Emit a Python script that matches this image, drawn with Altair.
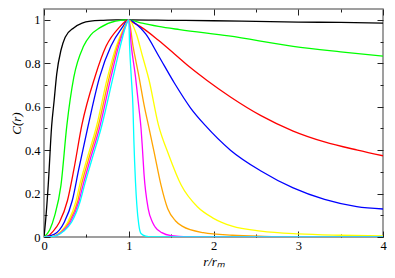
import altair as alt
import pandas as pd

# ---- data (x = r/r_m, y = C(r)) ----
series = ["black", "green", "red", "blue", "yellow", "orange", "magenta", "cyan"]
colors = ["#000000", "#00ff00", "#ff0000", "#0000ff", "#ffff00", "#ffa500", "#ff00ff", "#00ffff"]

black_x = [0, 0.02, 0.05, 0.09, 0.12, 0.15, 0.2, 0.25, 0.35, 0.45, 0.55, 0.7, 0.85, 1.0, 1.5, 2.0, 2.5, 3.0, 3.5, 4.0]
black_y = [0, 0.08, 0.24, 0.51, 0.63, 0.75, 0.86, 0.92, 0.963, 0.985, 0.994, 0.998, 1.0, 1.0, 0.998, 0.996, 0.993, 0.99, 0.988, 0.985]

green_x = [0, 0.068, 0.125, 0.2, 0.27, 0.352, 0.466, 0.55, 0.656, 0.845, 1.0, 1.05, 1.16, 1.35, 1.6, 2.18, 2.94, 3.5, 4.0]
green_y = [0, 0.033, 0.097, 0.238, 0.515, 0.736, 0.878, 0.93, 0.963, 0.994, 1.0, 0.996, 0.985, 0.970, 0.955, 0.926, 0.878, 0.853, 0.833]

red_x = [0, 0.05, 0.107, 0.182, 0.277, 0.352, 0.447, 0.6, 0.732, 0.883, 1.0, 1.05, 1.16, 1.35, 1.54, 1.73, 1.92, 2.2, 2.56, 2.94, 3.31, 3.7, 4.0]
red_y = [0, 0.005, 0.026, 0.068, 0.168, 0.31, 0.516, 0.736, 0.878, 0.963, 1.0, 0.988, 0.963, 0.906, 0.843, 0.779, 0.722, 0.645, 0.559, 0.488, 0.438, 0.40, 0.374]

blue_x = [0, 0.12, 0.239, 0.334, 0.409, 0.523, 0.656, 0.789, 0.92, 1.0, 1.09, 1.2, 1.35, 1.54, 1.73, 1.9, 2.2, 2.56, 2.94, 3.31, 3.69, 4.0]
blue_y = [0, 0.012, 0.068, 0.168, 0.31, 0.516, 0.736, 0.878, 0.963, 1.0, 0.98, 0.935, 0.836, 0.708, 0.594, 0.515, 0.40, 0.304, 0.226, 0.173, 0.140, 0.129]

yellow_x = [0, 0.1, 0.2, 0.28, 0.38, 0.42, 0.5, 0.62, 0.75, 0.852, 0.945, 1.0, 1.09, 1.16, 1.24, 1.35, 1.47, 1.62, 1.81, 2.0, 2.22, 2.56, 3.0, 3.5, 4.0]
yellow_y = [0, 0.003, 0.026, 0.068, 0.168, 0.238, 0.35, 0.51, 0.736, 0.878, 0.965, 1.0, 0.935, 0.836, 0.722, 0.516, 0.38, 0.238, 0.139, 0.086, 0.05, 0.027, 0.014, 0.008, 0.005]

orange_x = [0, 0.11, 0.21, 0.295, 0.40, 0.44, 0.52, 0.64, 0.77, 0.865, 0.952, 1.0, 1.05, 1.12, 1.18, 1.24, 1.3, 1.38, 1.46, 1.55, 1.63, 1.88, 2.22, 2.6, 3.0, 4.0]
orange_y = [0, 0.003, 0.026, 0.068, 0.168, 0.238, 0.35, 0.51, 0.736, 0.878, 0.965, 1.0, 0.88, 0.74, 0.61, 0.5, 0.39, 0.24, 0.13, 0.075, 0.05, 0.02, 0.008, 0.003, 0.001, 0]

magenta_x = [0, 0.115, 0.22, 0.31, 0.415, 0.46, 0.54, 0.66, 0.79, 0.88, 0.955, 1.0, 1.03, 1.08, 1.12, 1.145, 1.16, 1.18, 1.23, 1.28, 1.31, 1.39, 1.5, 1.7, 2.0, 4.0]
magenta_y = [0, 0.003, 0.026, 0.068, 0.168, 0.238, 0.35, 0.51, 0.736, 0.878, 0.965, 1.0, 0.88, 0.736, 0.594, 0.5, 0.416, 0.29, 0.13, 0.068, 0.047, 0.02, 0.006, 0.001, 0, 0]

cyan_x = [0, 0.12, 0.23, 0.325, 0.43, 0.477, 0.56, 0.68, 0.815, 0.9, 0.96, 1.0, 1.01, 1.03, 1.05, 1.06, 1.08, 1.095, 1.118, 1.144, 1.2, 1.3, 4.0]
cyan_y = [0, 0.003, 0.026, 0.068, 0.168, 0.238, 0.35, 0.51, 0.736, 0.878, 0.965, 1.0, 0.88, 0.736, 0.594, 0.45, 0.25, 0.15, 0.058, 0.016, 0.004, 0, 0]

x_tick_values = [0, 0.5, 1, 1.5, 2, 2.5, 3, 3.5, 4]
y_tick_values = [0, 0.1, 0.2, 0.3, 0.4, 0.5, 0.6, 0.7, 0.8, 0.9, 1.0]

curves = [black_x, black_y, green_x, green_y, red_x, red_y, blue_x, blue_y,
          yellow_x, yellow_y, orange_x, orange_y, magenta_x, magenta_y, cyan_x, cyan_y]
rows = []
for i, name in enumerate(series):
    xs, ys = curves[2 * i], curves[2 * i + 1]
    for xv, yv in zip(xs, ys):
        rows.append({"series": name, "x": xv, "y": yv})
df = pd.DataFrame(rows)

FONT = "'Liberation Serif', 'Times New Roman', serif"
xscale = alt.Scale(domain=[0, 4], nice=False, zero=False)
yscale = alt.Scale(domain=[0, 1.05], nice=False, zero=False)
color = alt.Color("series:N", scale=alt.Scale(domain=series, range=colors), legend=None)

x_tick_size = {"condition": {"test": "datum.value % 1 != 0", "value": -3}, "value": -6}
y_tick_size = {"condition": {"test": "round(datum.value * 10) % 2 != 0", "value": -3}, "value": -6}

common = dict(grid=False, domain=False, tickColor="#222222", tickWidth=1,
              labelOverlap=False, labelFlush=False)

x_axis = alt.Axis(orient="bottom", values=x_tick_values, tickSize=x_tick_size,
                  labelExpr="datum.value % 1 == 0 ? format(datum.value, 'd') : ''",
                  labelPadding=8, labelFont=FONT, labelFontSize=12.5, labelColor="black",
                  title="r/rₘ", titleFont=FONT, titleFontSize=13, titleFontStyle="italic",
                  titleFontWeight="normal", titlePadding=1, titleColor="black", **common)
y_axis = alt.Axis(orient="left", values=y_tick_values, tickSize=y_tick_size,
                  labelExpr="round(datum.value * 10) % 2 == 0 ? format(datum.value, '~g') : ''",
                  labelPadding=10, labelFont=FONT, labelFontSize=12.5, labelColor="black",
                  title="C(r)", titleFont=FONT, titleFontSize=13, titleFontStyle="italic",
                  titleFontWeight="normal", titlePadding=1, titleColor="black", **common)
x_axis_top = alt.Axis(orient="top", values=x_tick_values, tickSize=x_tick_size,
                      labels=False, title=None, **common)
y_axis_right = alt.Axis(orient="right", values=y_tick_values, tickSize=y_tick_size,
                        labels=False, title=None, **common)

lines = alt.Chart(df).mark_line(interpolate="monotone", strokeWidth=1.3, clip=True).encode(
    x=alt.X("x:Q", scale=xscale, axis=x_axis),
    y=alt.Y("y:Q", scale=yscale, axis=y_axis),
    color=color,
    detail="series:N",
)
mirror = alt.Chart(df).mark_line(opacity=0, clip=True).encode(
    x=alt.X("x:Q", scale=xscale, axis=x_axis_top),
    y=alt.Y("y:Q", scale=yscale, axis=y_axis_right),
    detail="series:N",
)

chart = alt.layer(lines, mirror).resolve_axis(x="independent", y="independent").properties(
    width=339, height=228,
    autosize=alt.AutoSizeParams(type="none"),
    padding={"left": 36, "top": 1, "right": 4, "bottom": 33},
    background="white",
).configure_view(stroke="#808080", strokeWidth=1.5)

chart.save("out.html", embed_options={"renderer": "svg", "actions": False})
